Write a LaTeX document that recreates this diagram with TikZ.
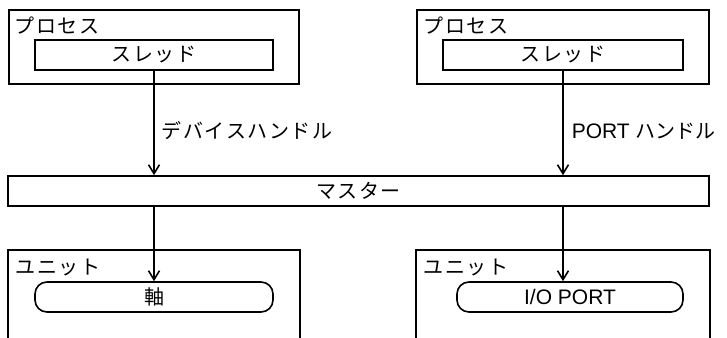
\documentclass[tikz,border=0pt]{standalone}
\usepackage{fontspec}
\setmainfont{Liberation Sans}
\newfontfamily\jpfont[LetterSpace=8]{Noto Sans CJK JP}
\newfontfamily\jpplain{Noto Sans CJK JP}
\usetikzlibrary{arrows.meta}
\begin{document}
\begin{tikzpicture}[x=1pt,y=-1pt,line width=1.6pt,
  jp/.style={font=\jpfont\fontsize{20pt}{22pt}\selectfont},
  lat/.style={font=\fontsize{21pt}{23pt}\selectfont},
  outerbox/.style={draw, inner sep=0pt, minimum width=#1, minimum height=74pt},
  threadbox/.style={draw, inner sep=0pt, minimum width=#1, minimum height=30pt, jp},
  masterbox/.style={draw, inner sep=0pt, minimum width=701pt, minimum height=30pt, jp},
  unitarea/.style={inner sep=0pt, minimum width=#1, minimum height=86pt},
  axisbox/.style={draw, inner sep=0pt, rounded corners=12pt, minimum width=#1, minimum height=30pt},
  lbl/.style={inner sep=0pt, anchor=west, jp},
  arr/.style={-{Straight Barb[length=9pt,width=11pt]}}]
\useasboundingbox (0,0) rectangle (727,337);
% processes
\node[outerbox=290pt] (p1) at (154,47) {};
\node[outerbox=292pt] (p2) at (563,47) {};
\node[lbl] (lp1) at (14,25.5) {プロセス};
\node[lbl] (lp2) at (423,25.5) {プロセス};
\node[threadbox=238pt] (t1) at (154,55) {スレッド};
\node[threadbox=240pt] (t2) at (563,55) {スレッド};
% master
\node[masterbox] (m) at (358.5,191) {マスター};
% units
\node[unitarea=290pt] (u1) at (154,294) {};
\node[unitarea=292pt] (u2) at (563,294) {};
\draw (u1.south west) -- (u1.north west) -- (u1.north east) -- (u1.south east);
\draw (u2.south west) -- (u2.north west) -- (u2.north east) -- (u2.south east);
\node[lbl] (lu1) at (15,267.5) {ユニット};
\node[lbl] (lu2) at (423,267.5) {ユニット};
\node[axisbox=238pt, jp] (a1) at (154,297) {軸};
\node[axisbox=226pt, lat] (a2) at (570,297) {I/O PORT};
% connectors
\draw[arr] (t1.south) -- (t1.south |- m.north);
\draw[arr] (t2.south) -- (t2.south |- m.north);
\draw[arr] (t1.south |- m.south) -- (t1.south |- a1.north);
\draw[arr] (t2.south |- m.south) -- (t2.south |- a2.north);
% handle labels
\node[lbl] (h1) at (161,131) {デバイスハンドル};
\node[inner sep=0pt, anchor=west, lat] (h2) at (571,131) {PORT {\jpplain\fontsize{20pt}{22pt}\selectfont ハンドル}};
\end{tikzpicture}
\end{document}
